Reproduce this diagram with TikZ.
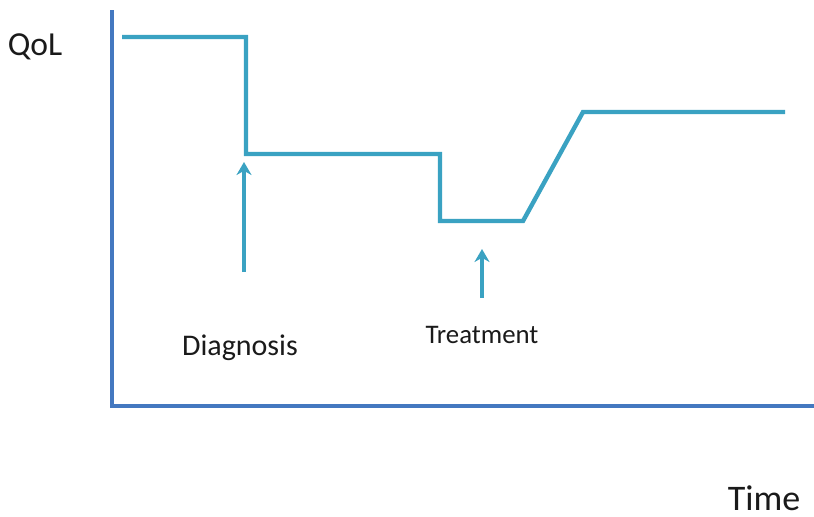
\documentclass[tikz,border=0pt]{standalone}
\usepackage{fontspec}
\setmainfont{Carlito}
\usepackage{xcolor}
\usetikzlibrary{positioning, arrows.meta}
\definecolor{qlAxis}{HTML}{4478C0}
\definecolor{qlCurve}{HTML}{3AA2C2}
\definecolor{qlInk}{HTML}{1A1A1A}
\tikzset{
  axis/.style  ={line width=2pt, qlAxis},
  curve/.style ={line width=2.2pt, qlCurve, line join=miter},
  evarr/.style ={-{Stealth[length=6.5pt,width=7.5pt]}, line width=1.6pt, qlCurve},
  lbl/.style   ={text=qlInk, inner sep=0pt},
  big/.style   ={text=qlInk, inner sep=0pt},
}
\begin{document}
\begin{tikzpicture}[x=0.5pt,y=-0.5pt]
\useasboundingbox (0,0) rectangle (814,516);
% ---- axes ----
\coordinate (ytop)   at (112,10);
\coordinate (origin) at (112,406);
\coordinate (xend)   at (814,406);
\draw[axis] (ytop) -- (origin) -- (xend);
\node[big,font=\fontsize{16.8}{20}\selectfont] (qol)  at (35,47)   {QoL};
\node[big,font=\fontsize{18}{22}\selectfont,anchor=base] (time) at (764,510) {Time};

% ---- quality of life curve ----
\coordinate (p0) at (122,37);
\coordinate (p1) at (246,37);
\coordinate (p2) at (246,154);
\coordinate (p3) at (440,154);
\coordinate (p4) at (440,221);
\coordinate (p5) at (523,221);
\coordinate (p6) at (583,112);
\coordinate (p7) at (785,112);
\draw[curve] (p0) -- (p1) -- (p2) -- (p3) -- (p4) -- (p5) -- (p6) -- (p7);

% ---- events ----
\node[lbl,font=\fontsize{15}{18}\selectfont]   (diag)  at (240,348) {Diagnosis};
\node[lbl,font=\fontsize{13.4}{16}\selectfont] (treat) at (482,335) {Treatment};
\coordinate (diagA)  at (244,272);
\coordinate (diagB)  at (244,162);
\coordinate (treatA) at (482,298);
\coordinate (treatB) at (482,249);
\draw[evarr] (diagA) -- (diagB);
\draw[evarr] (treatA) -- (treatB);
\end{tikzpicture}
\end{document}
